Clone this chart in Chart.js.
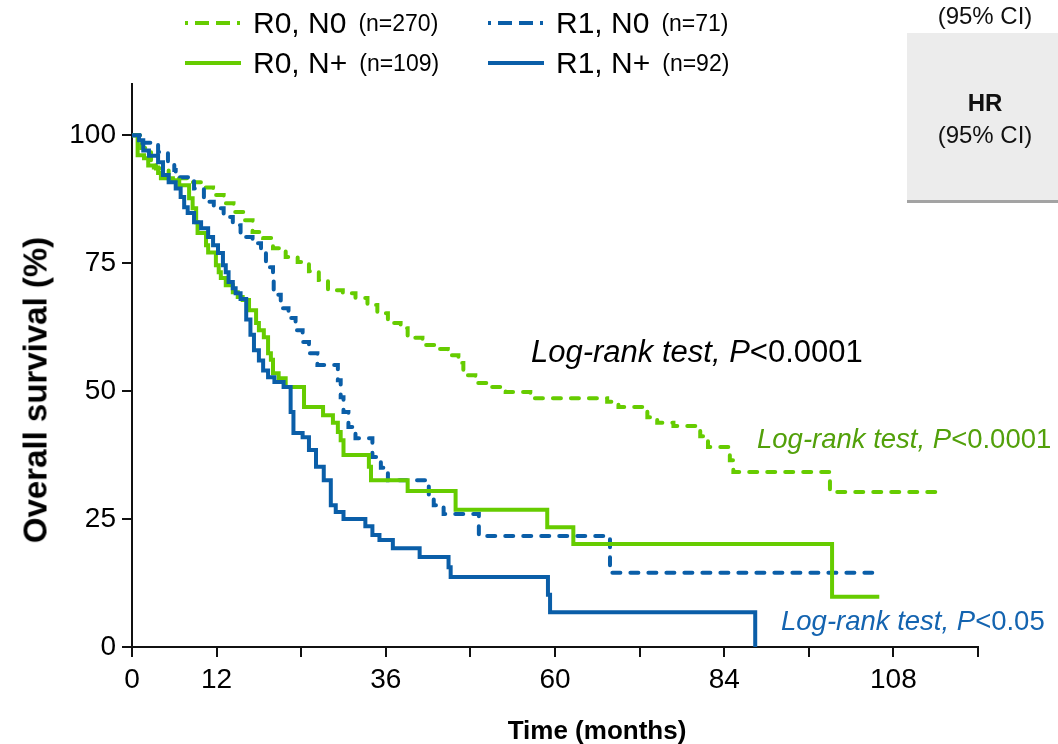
<!DOCTYPE html>
<html>
<head>
<meta charset="utf-8">
<script src="https://cdn.jsdelivr.net/npm/chart.js@4/dist/chart.umd.min.js"></script>
<style>
  body { margin: 0; background: #fff; font-family: "Liberation Sans", Arial, sans-serif; }
  #wrap { position: relative; width: 1058px; height: 744px; overflow: hidden; background: #fff; }
  #c { position: absolute; left: 0; top: 0; }
  .abs { position: absolute; white-space: nowrap; line-height: 1; }
  .leg { display: flex; align-items: center; transform: translateY(-50%); color: #000; }
  .leg svg { margin-right: 12px; }
  .leg .big { font-size: 30px; }
  .leg .small { font-size: 23px; margin-left: 12px; }
  .note { font-style: italic; transform: translateY(-50%); }
  .note span { font-style: normal; }
  #hrbox { position: absolute; left: 907px; top: 33px; width: 151px; height: 167px; background: #ececec; border-bottom: 3px solid #a3a3a3; }
</style>
</head>
<body>
<div id="wrap">
  <canvas id="c" width="1058" height="744"></canvas>

  <div class="abs leg" style="left:183px; top:23px">
    <svg width="58" height="8"><line x1="2" y1="4" x2="58" y2="4" stroke="#66cc00" stroke-width="4" stroke-dasharray="3 7 14 7 14 7"/></svg>
    <span class="big">R0, N0</span><span class="small">(n=270)</span>
  </div>
  <div class="abs leg" style="left:183px; top:63px">
    <svg width="58" height="8"><line x1="2" y1="4" x2="58" y2="4" stroke="#66cc00" stroke-width="4"/></svg>
    <span class="big">R0, N+</span><span class="small">(n=109)</span>
  </div>
  <div class="abs leg" style="left:486px; top:23px">
    <svg width="58" height="8"><line x1="2" y1="4" x2="58" y2="4" stroke="#0a5ea8" stroke-width="4" stroke-dasharray="3 7 14 7 14 7"/></svg>
    <span class="big">R1, N0</span><span class="small">(n=71)</span>
  </div>
  <div class="abs leg" style="left:486px; top:63px">
    <svg width="58" height="8"><line x1="2" y1="4" x2="58" y2="4" stroke="#0a5ea8" stroke-width="4"/></svg>
    <span class="big">R1, N+</span><span class="small">(n=92)</span>
  </div>

  <div id="hrbox"></div>
  <div class="abs" style="left:985px; top:16px; transform:translate(-50%,-50%); font-size:24px; color:#111">(95% CI)</div>
  <div class="abs" style="left:985px; top:103px; transform:translate(-50%,-50%); font-size:24px; font-weight:bold; color:#111">HR</div>
  <div class="abs" style="left:985px; top:135px; transform:translate(-50%,-50%); font-size:24px; color:#111">(95% CI)</div>

  <div class="abs note" style="left:531px; top:351px; font-size:31px; color:#000">Log-rank test, P<span>&lt;0.0001</span></div>
  <div class="abs note" style="left:757px; top:439px; font-size:27.5px; color:#52a00a">Log-rank test, P<span>&lt;0.0001</span></div>
  <div class="abs note" style="left:781px; top:621px; font-size:27.5px; color:#1464b0">Log-rank test, P<span>&lt;0.05</span></div>

  <div class="abs" style="left:35px; top:390px; transform:translate(-50%,-50%) rotate(-90deg); font-size:33px; font-weight:bold; color:#000">Overall survival (%)</div>
  <div class="abs" style="left:597px; top:730px; transform:translate(-50%,-50%); font-size:26px; font-weight:bold; color:#000">Time (months)</div>
</div>

<script>
// Kaplan-Meier steps: time (months) where survival drops, and survival (%) after the drop
const r0n0Time = [0, 1.3, 2.7, 3.4, 5.2, 7.9, 9.8, 11.5, 13, 14.4, 15.9, 17.1, 18.6, 20, 21.8, 23.5, 25.1, 26.5, 27.8, 29.9, 31.7, 33.4, 34.8, 36.3, 38.1, 39.1, 41.2, 43.1, 44.8, 46.3, 47, 48.7, 50.6, 53, 56.5, 67.4, 69, 73.1, 74.5, 76.8, 80.6, 81.7, 84.8, 85.3, 99, 115.3];
const r0n0Surv = [100, 97.5, 94.7, 93.5, 91.6, 90.8, 89.8, 88.3, 86.7, 85, 83.4, 81.1, 79.9, 77.9, 76.2, 75.2, 73.4, 71.7, 69.7, 69.1, 68.2, 66.8, 65.2, 63.3, 62.3, 60.4, 59, 58.2, 57, 55.5, 53.1, 51.6, 50.8, 49.8, 48.6, 47.9, 46.9, 44.9, 43.8, 43.2, 41.2, 39.1, 36.5, 34.2, 30.3, 30.3];

const r0nPTime = [0, 0.8, 1.7, 2.3, 3.1, 3.7, 4.1, 5.8, 6.7, 8.1, 8.6, 9.1, 9.3, 10.5, 10.8, 11.9, 12.3, 12.6, 13.3, 14.3, 15, 15.7, 16.6, 17.6, 18, 18.7, 19.3, 19.7, 20, 20.8, 21.8, 24.4, 27.1, 28.5, 29.2, 29.6, 30, 33.6, 33.9, 39.1, 45.9, 58.9, 62.6, 99.3, 106];
const r0nPSurv = [100, 96.1, 95.5, 94.1, 93.7, 92.6, 91.6, 91.2, 90.2, 87.7, 85.7, 83, 80.9, 78.5, 77.1, 74.6, 73.2, 72.1, 70.7, 69.3, 68.4, 67.8, 65.8, 63.3, 61.9, 60.5, 57.4, 56.1, 53.5, 52.5, 50.8, 46.9, 45.3, 43.8, 42, 40.4, 37.5, 35.2, 32.6, 30.5, 26.8, 23.4, 20.1, 9.8, 9.8];

const r1n0Time = [0, 1.5, 3.7, 5.1, 6, 6.2, 8.8, 10.2, 11.6, 13, 14.3, 15.4, 17.1, 18.3, 19, 20, 20.1, 21.1, 22.2, 23.2, 24.2, 25.1, 26.3, 29.2, 29.6, 30, 30.7, 31.7, 34.1, 35.3, 36.3, 42.1, 42.8, 44.2, 49.2, 67.8, 105];
const r1n0Surv = [100, 98.5, 96.7, 94.7, 93.2, 91.8, 89.6, 87, 85.7, 84, 82.4, 80.1, 78.9, 77, 74.2, 72.1, 68.8, 66.2, 64.3, 61.9, 59.6, 57.4, 55.1, 52.1, 48.8, 45.9, 43, 40.8, 37.1, 35, 32.6, 29.3, 27.7, 26, 21.7, 14.5, 14.5];

const r1nPTime = [0, 1, 1.6, 2.4, 3.7, 4.4, 5.2, 6.2, 6.9, 7.4, 7.9, 8.8, 9.8, 10.8, 11.5, 12.2, 12.9, 13.3, 13.7, 14.3, 14.7, 15.4, 16.2, 16.8, 17.3, 18, 18.6, 19.3, 20.2, 21.5, 22.5, 22.9, 24.2, 25.1, 26.1, 27.2, 28.2, 28.9, 30, 33.1, 34.1, 35.1, 37, 40.8, 44.9, 45.2, 59, 59.3, 88.4];
const r1nPSurv = [100, 99, 97, 96, 94.7, 92.2, 90.8, 89.6, 87.9, 85.9, 84.8, 83, 81.8, 80.1, 78.5, 77, 74.6, 73.2, 71.3, 70.1, 69.1, 68, 64, 61, 58, 56, 54, 52.7, 51.8, 50.8, 45.9, 41.8, 41, 38.5, 35.2, 32.6, 27.7, 26.4, 25, 23.6, 21.9, 20.9, 19.3, 17.6, 15.6, 13.7, 10.2, 6.8, 0];

const xTicks = [0, 12, 24, 36, 48, 60, 72, 84, 96, 108, 120];
const xTickLabels = ['0', '12', '', '36', '', '60', '', '84', '', '108', ''];
const yTicks = [0, 25, 50, 75, 100];

const GREEN = '#66cc00';
const BLUE = '#0a5ea8';

function pts(t, s) {
    return t.map((v, i) => ({ x: v, y: s[i] }));
}

function series(label, t, s, color, dashed) {
    return {
        label: label,
        data: pts(t, s),
        borderColor: color,
        borderWidth: 4,
        borderDash: dashed ? [8, 10] : [],
        borderCapStyle: dashed ? 'round' : 'butt',
        borderJoinStyle: 'miter',
        stepped: true,
        pointRadius: 0,
        fill: false
    };
}

const tickFont = { family: '"Liberation Sans", Arial, sans-serif', size: 28 };

new Chart(document.getElementById('c').getContext('2d'), {
    type: 'line',
    data: {
        datasets: [
            series('R1, N+', r1nPTime, r1nPSurv, BLUE, false),
            series('R0, N+', r0nPTime, r0nPSurv, GREEN, false),
            series('R1, N0', r1n0Time, r1n0Surv, BLUE, true),
            series('R0, N0', r0n0Time, r0n0Surv, GREEN, true)
        ]
    },
    options: {
        responsive: false,
        devicePixelRatio: 1,
        animation: false,
        layout: { padding: { top: 84, right: 80, left: 0, bottom: 0 } },
        plugins: { legend: { display: false }, tooltip: { enabled: false } },
        scales: {
            x: {
                type: 'linear',
                min: 0,
                max: 120,
                afterBuildTicks: s => { s.ticks = xTicks.map(v => ({ value: v })); },
                afterFit: s => { s.height = 97; },
                ticks: {
                    autoSkip: false,
                    maxRotation: 0,
                    padding: 6,
                    color: '#000',
                    font: tickFont,
                    callback: (v, i) => xTickLabels[i]
                },
                grid: { drawOnChartArea: false, drawTicks: true, tickLength: 10, color: '#111', lineWidth: 2 },
                border: { display: true, color: '#111', width: 2 }
            },
            y: {
                min: 0,
                max: 110,
                afterBuildTicks: s => { s.ticks = yTicks.map(v => ({ value: v })); },
                afterFit: s => { s.width = 132; },
                ticks: { padding: 6, color: '#000', font: tickFont },
                grid: { drawOnChartArea: false, drawTicks: true, tickLength: 10, color: '#111', lineWidth: 2 },
                border: { display: true, color: '#111', width: 2 }
            }
        }
    }
});
</script>
</body>
</html>
